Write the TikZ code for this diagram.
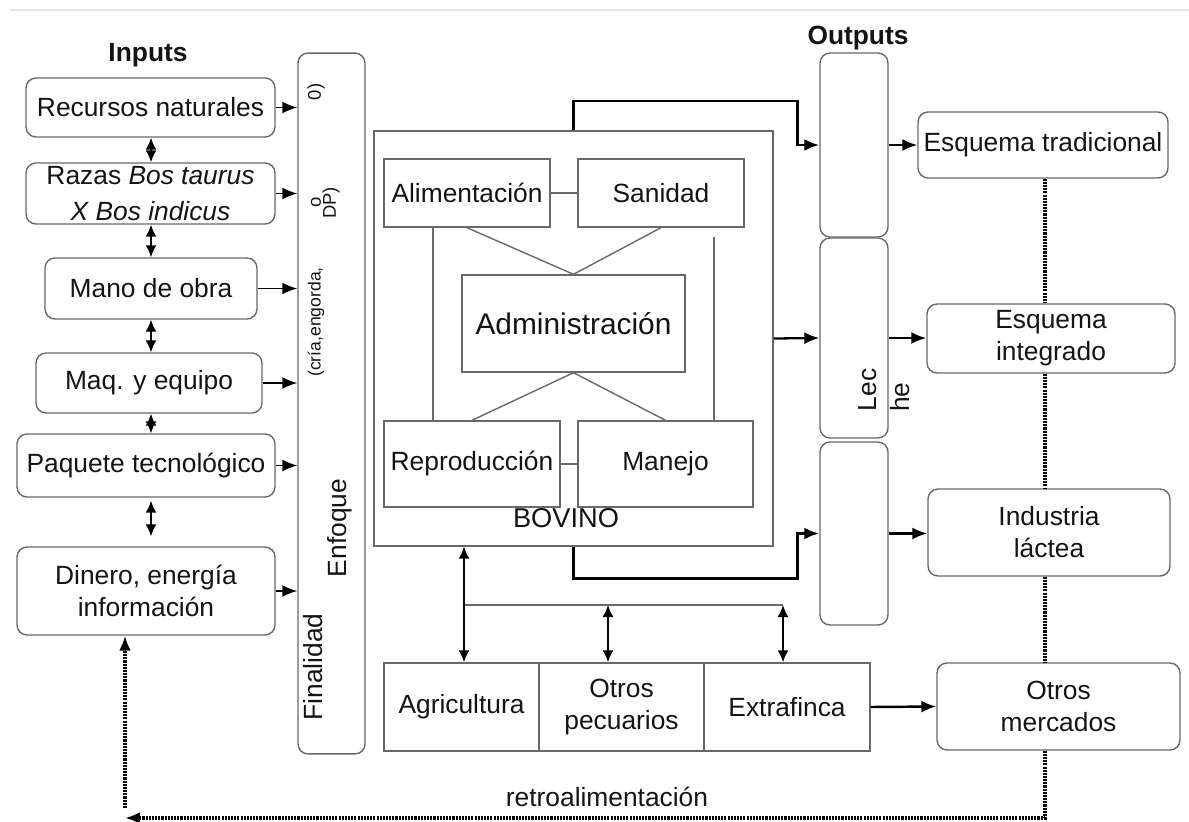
\documentclass[tikz,border=0pt]{standalone}
\usepackage{fontspec}
\setmainfont{Liberation Sans}
\usetikzlibrary{positioning}
\usetikzlibrary{arrows.meta}
\usetikzlibrary{calc}
\definecolor{boxgray}{RGB}{105,105,105}
\definecolor{txtgray}{RGB}{20,20,20}

\begin{document}
\begin{tikzpicture}[x=0.02cm, y=-0.02cm,
    every node/.style={font=\fontsize{15}{18.2}\selectfont, text=txtgray},
    rbox/.style={draw=boxgray, line width=0.8pt, rounded corners=0.2cm, fill=white, align=center, inner sep=0pt},
    sbox/.style={draw=boxgray, line width=0.8pt, fill=white, align=center, inner sep=0pt},
    tip/.style={-{Latex[length=3mm,width=2.4mm]}, line width=1pt},
    dtip/.style={{Latex[length=2.4mm,width=2.2mm]}-{Latex[length=2.4mm,width=2.2mm]}, line width=1pt},
    thk/.style={line width=1.7pt},
    fine/.style={draw=boxgray, line width=0.8pt},
    feed/.style={dash pattern=on 1.2pt off 0.6pt, line width=2pt},
    small/.style={font=\fontsize{10.5}{12}\selectfont},
    title/.style={font=\bfseries\fontsize{15}{18}\selectfont}]
    \useasboundingbox (0,0) rectangle (1189,821);
    \draw[gray!20, line width=1.5pt] (10,10) -- (1189,10);

    \node[title] (inp) at (148,55) {Inputs};
    \node[title] (outp) at (858,38) {Outputs};

    \node[rbox, minimum width=4.98cm, minimum height=1.18cm] (rec) at (150.5,107.5) {Recursos naturales};
    \node[rbox, minimum width=4.98cm, minimum height=1.22cm] (raz) at (150.5,193.5) {Razas \textit{Bos taurus}\\[2pt]\textit{X Bos indicus}};
    \node[rbox, minimum width=4.24cm, minimum height=1.22cm] (mano) at (151,288.5) {Mano de obra};
    \node[rbox, minimum width=4.52cm, minimum height=1.2cm] (maq) at (149,383) {Maq. y equipo};
    \node[rbox, minimum width=5.16cm, minimum height=1.26cm] (paq) at (146,465.5) {Paquete tecnológico};
    \node[rbox, minimum width=5.16cm, minimum height=1.76cm] (din) at (146,591) {Dinero, energía\\información};

    \coordinate (ax) at (151,0);
    \foreach \a/\b in {rec/raz, raz/mano, mano/maq, maq/paq}
        \draw[dtip] (\a.south -| ax) -- (\b.north -| ax);
    \draw[dtip, shorten <=0.06cm, shorten >=0.2cm] (paq.south -| ax) -- (din.north -| ax);

    \node[rbox, minimum width=1.34cm, minimum height=14.02cm] (enf) at (331.5,403.5) {};
    \node[rotate=90] (fin) at (313,667) {Finalidad};
    \node[rotate=90] (enfq) at (340,528) {Enfoque};
    \node[rotate=90, font=\fontsize{10}{11}\selectfont] (cria) at (316,322) {(cría,engorda,};
    \node[rotate=90, small] (ob) at (316,202) {o};
    \node[rotate=90, small] (dp) at (331,203) {DP)};
    \node[rotate=90, small] (cero) at (316,92) {0)};

    \foreach \a in {rec, raz, mano, maq, paq, din}
        \draw[tip] (\a.east) -- (\a.east -| enf.west);

    \node[sbox, minimum width=7.98cm, minimum height=8.3cm] (bov) at (573.5,338.5) {};
    \node[font=\fontsize{15.5}{18}\selectfont] (bovl) at (566,518) {BOVINO};
    \node[sbox, minimum width=3.32cm, minimum height=1.36cm] (ali) at (467,193) {Alimentación};
    \node[sbox, minimum width=3.32cm, minimum height=1.36cm] (san) at (661,193) {Sanidad};
    \node[sbox, minimum width=4.46cm, minimum height=1.94cm, font=\fontsize{17}{20}\selectfont] (adm) at (573.5,323.5) {Administración};
    \node[sbox, minimum width=3.52cm, minimum height=1.72cm] (rep) at (472,464) {Reproducción};
    \node[sbox, minimum width=3.5cm, minimum height=1.72cm] (mnj) at (665.5,464) {Manejo};

    \draw[fine] (ali.east) -- (san.west);
    \draw[fine] (rep.east) -- (mnj.west);
    \draw[fine] (ali.south) -- (adm.north);
    \draw[fine] (san.south) -- (adm.north);
    \draw[fine] (rep.north) -- (adm.south);
    \draw[fine] (mnj.north) -- (adm.south);
    \coordinate (vl) at (433,227);
    \coordinate (vr) at (714,237);
    \draw[fine] (vl) -- (vl |- rep.north);
    \draw[fine] (vr) -- (vr |- mnj.north);

    \node[rbox, minimum width=1.36cm, minimum height=3.68cm] (oc1) at (854,145) {};
    \node[rbox, minimum width=1.36cm, minimum height=4.0cm] (oc2) at (854,338) {};
    \node[rbox, minimum width=1.36cm, minimum height=3.66cm] (oc3) at (854,533.5) {};
    \node[rotate=90] (lec) at (868,390) {Lec};
    \node[rotate=90] (he) at (900,397) {he};

    \coordinate (tk1) at (797,101);
    \coordinate (tk2) at (797,578);
    \draw[tip, thk] (bov.north) |- (tk1) |- (oc1.west);
    \draw[tip, thk] (bov.south) |- (tk2) |- (oc3.west);
    \draw[tip, line width=1.3pt] (bov.east) -- (oc2.west);

    \node[rbox, minimum width=5.0cm, minimum height=1.32cm] (etr) at (1043,145) {Esquema tradicional};
    \node[rbox, minimum width=4.96cm, minimum height=1.38cm] (ein) at (1051,338.5) {Esquema\\integrado};
    \node[rbox, minimum width=4.84cm, minimum height=1.74cm] (ilac) at (1049,532.5) {Industria\\láctea};
    \node[rbox, minimum width=4.86cm, minimum height=1.74cm] (omer) at (1058.5,706.5) {Otros\\mercados};

    \draw[tip, line width=1.3pt] (oc1.east) -- (etr.west);
    \draw[tip, line width=1.3pt] (oc2.east) -- (oc2.east -| ein.west);
    \draw[tip, line width=1.3pt] (oc3.east) -- (oc3.east -| ilac.west);

    \node[sbox, minimum width=3.1cm, minimum height=1.76cm] (agr) at (461.5,707) {Agricultura};
    \node[sbox, minimum width=3.3cm, minimum height=1.76cm] (opec) at (621.5,707) {Otros\\pecuarios};
    \node[sbox, minimum width=3.32cm, minimum height=1.76cm] (ext) at (787,707) {Extrafinca};

    \coordinate (b1) at (464,605);
    \coordinate (b2) at (608,605);
    \coordinate (b3) at (783,605);
    \draw[fine] (b1) -- (b3);
    \draw[dtip] (b1 |- bov.south) -- (b1 |- agr.north);
    \draw[dtip] (b2) -- (b2 |- opec.north);
    \draw[dtip] (b3) -- (b3 |- ext.north);
    \draw[tip, line width=1.4pt] (ext.east) -- (omer.west);

    \coordinate (fbr) at (1045,818);
    \coordinate (fbl) at (125,818);
    \coordinate (fbu) at (125,808);
    \draw[feed] (fbr |- etr.south) -- (fbr |- ein.north);
    \draw[feed] (fbr |- ein.south) -- (fbr |- ilac.north);
    \draw[feed] (fbr |- ilac.south) -- (fbr |- omer.north);
    \draw[feed, -{Latex[length=3mm,width=2.4mm]}] (fbr |- omer.south) -- (fbr) -- (fbl);
    \draw[feed, -{Latex[length=3mm,width=2.4mm]}] (fbu) -- (fbu |- din.south);
    \node (retro) at (607,797) {retroalimentación};
\end{tikzpicture}
\end{document}
